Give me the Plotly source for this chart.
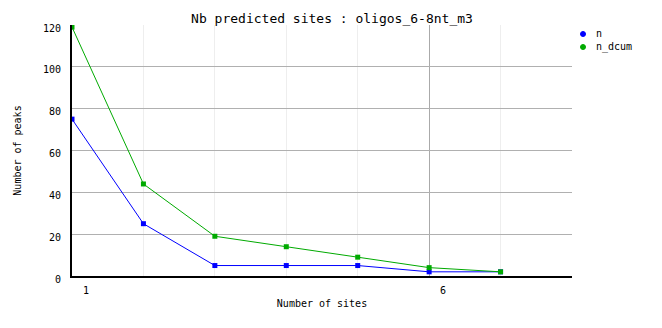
import plotly.graph_objects as go

sites = [1, 2, 3, 4, 5, 6, 7]
n = [75, 25, 5, 5, 5, 2, 2]
n_dcum = [119, 44, 19, 14, 9, 4, 2]
x_ticks = [1, 6]
y_ticks = [0, 20, 40, 60, 80, 100, 120]
series_names = ["n", "n_dcum"]
series_colors = ["#0000ff", "#00aa00"]

MONO = "DejaVu Sans Mono"
W, H = 662, 328
L, R, T, B = 72, 90, 25, 52

fig = go.Figure()
for name, vals, col in zip(series_names, [n, n_dcum], series_colors):
    fig.add_trace(go.Scatter(x=sites, y=vals, name=name, mode="lines+markers",
                             showlegend=False,
                             line=dict(color=col, width=1),
                             marker=dict(color=col, size=5, symbol="square")))

# legend drawn as marker dot + text (compact spacing like the original)
pw = W - L - R
ph = H - T - B
for i, (name, col) in enumerate(zip(series_names, series_colors)):
    py = 34 + 13 * i
    mx = 583
    xp = lambda px: (px - L) / pw
    yp = lambda px: 1 - (px - T) / ph
    fig.add_shape(type="circle", xref="paper", yref="paper",
                  x0=xp(mx - 2.5), x1=xp(mx + 2.5), y0=yp(py + 2.5), y1=yp(py - 2.5),
                  fillcolor=col, line=dict(color=col, width=1))
    fig.add_annotation(text=name, xref="paper", yref="paper", x=xp(594), y=yp(py),
                       xanchor="left", yanchor="middle", showarrow=False,
                       font=dict(family=MONO, size=10, color="black"))

fig.update_layout(
    width=W, height=H,
    margin=dict(l=L, r=R, t=T, b=B),
    paper_bgcolor="white", plot_bgcolor="white",
    font=dict(family=MONO, size=10, color="black"),
    showlegend=False,
    title=dict(text="Nb predicted sites : oligos_6-8nt_m3", x=332/662, xanchor="center",
               y=1-18/328, yanchor="middle", font=dict(family=MONO, size=13)),
    xaxis=dict(range=[1, 8], tickvals=x_ticks, ticktext=[str(v) for v in x_ticks],
               showgrid=True, gridcolor="#aaaaaa", gridwidth=1,
               minor=dict(tickvals=[2, 3, 4, 5, 7, 8], showgrid=True, gridcolor="#eeeeee"),
               showline=True, linecolor="black", linewidth=2, zeroline=False,
               ticks="", ticklabelshift=14, ticklabelstandoff=4,
               tickfont=dict(family=MONO, size=10),
               title=dict(text="Number of sites", font=dict(family=MONO, size=10), standoff=5)),
    yaxis=dict(range=[0, 120], tickvals=y_ticks,
               showgrid=True, gridcolor="#b0b0b0", gridwidth=1,
               showline=True, linecolor="black", linewidth=2, zeroline=False,
               ticks="", ticklabelstandoff=7, ticklabelshift=3,
               tickfont=dict(family=MONO, size=10),
               title=dict(text="Number of peaks", font=dict(family=MONO, size=10), standoff=19)),
)

fig.write_html("out.html")
